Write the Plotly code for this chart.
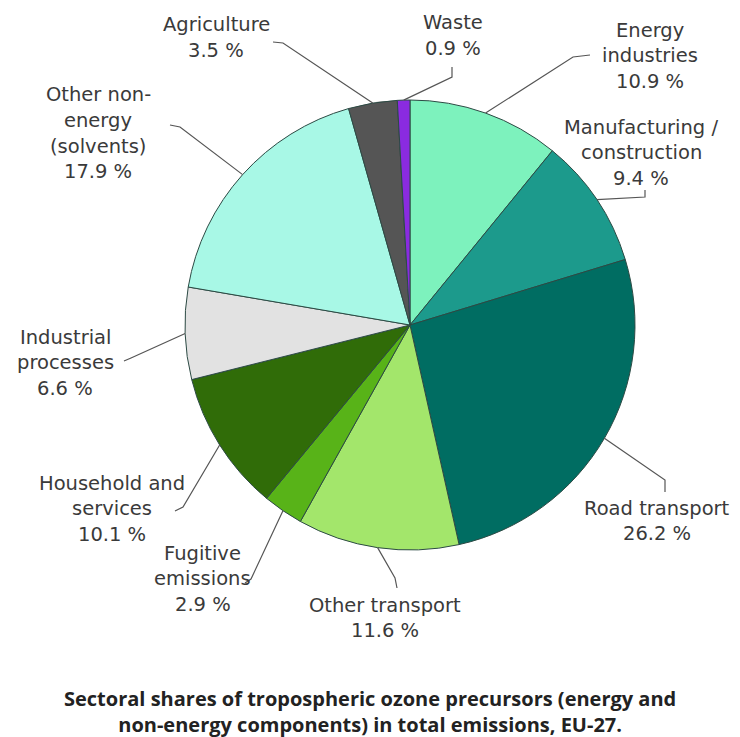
import math
import plotly.graph_objects as go

# ---- data ----
sectors = ["Energy industries", "Manufacturing / construction", "Road transport",
           "Other transport", "Fugitive emissions", "Household and services",
           "Industrial processes", "Other non-energy (solvents)", "Agriculture", "Waste"]
shares = [10.9, 9.4, 26.2, 11.6, 2.9, 10.1, 6.6, 17.9, 3.5, 0.9]
label_lines = [["Energy", "industries"], ["Manufacturing /", "construction"], ["Road transport"],
               ["Other transport"], ["Fugitive", "emissions"], ["Household and", "services"],
               ["Industrial", "processes"], ["Other non-", "energy", "(solvents)"],
               ["Agriculture"], ["Waste"]]
title_lines = ["Sectoral shares of tropospheric ozone precursors (energy and",
               "non-energy components) in total emissions, EU-27."]

# ---- style / layout ----
colors = ["#7df2bd", "#1c9a8c", "#006d62", "#a3e66b", "#58b318", "#306c08",
          "#e2e2e2", "#a8f8e6", "#555555", "#8a2be0"]
W, H = 740, 737
CX, CY, R = 410, 325, 225
LINE_H = 25.5
# label text: (center x, first line center y), leader elbow points (pixels)
label_pos = [(650, 30), (641, 127), (657, 508), (385, 605), (203, 553),
             (112, 483), (65, 337), (98, 95), (216, 25), (453, 23)]
leader_pts = [[(590, 55), (573, 57)], [(645, 190), (645, 197)], [(665, 492), (665, 480)],
              [(397, 588), (395, 578)], [(245, 583), (251, 579)], [(175, 511), (183, 507)],
              [(124, 361), (131, 358)], [(170, 125), (180, 127)], [(273, 42), (283, 43)],
              [(452, 67), (452, 77)]]

def px(x):
    return x / W

def py(y):
    return 1 - y / H

fig = go.Figure(go.Pie(
    labels=sectors, values=shares, sort=False, direction="clockwise", rotation=0,
    marker=dict(colors=colors, line=dict(color="#2c4a44", width=1)),
    textinfo="none", hoverinfo="label+percent", showlegend=False,
    domain=dict(x=[px(CX - R), px(CX + R)], y=[py(CY + R), py(CY - R)]),
))

annotations = []
shapes = []
total = sum(shares)
cum = 0.0
for i, v in enumerate(shares):
    mid = (cum + v / 2) / total * 2 * math.pi
    cum += v
    ex = CX + R * math.sin(mid)
    ey = CY - R * math.cos(mid)
    pts = leader_pts[i] + [(ex, ey)]
    path = "M " + " L ".join(f"{px(x):.5f},{py(y):.5f}" for x, y in pts)
    shapes.append(dict(type="path", path=path, xref="paper", yref="paper",
                       line=dict(color="#555555", width=1.2)))
    lines = label_lines[i] + [f"{v} %"]
    cx, y0 = label_pos[i]
    for k, t in enumerate(lines):
        annotations.append(dict(text=t, x=px(cx), y=py(y0 + k * LINE_H), xref="paper", yref="paper",
                                xanchor="center", yanchor="middle", showarrow=False,
                                font=dict(family="DejaVu Sans", size=19.5, color="#3a3a3a")))

annotations.append(dict(text="<br>".join(title_lines), x=0.5, y=py(711), xref="paper", yref="paper",
                        xanchor="center", yanchor="middle", showarrow=False, align="center",
                        font=dict(family="Open Sans", size=20, color="#222222", weight=700)))

fig.update_layout(width=W, height=H, margin=dict(l=0, r=0, t=0, b=0),
                  paper_bgcolor="white", plot_bgcolor="white",
                  annotations=annotations, shapes=shapes)
fig.write_html("out.html")
